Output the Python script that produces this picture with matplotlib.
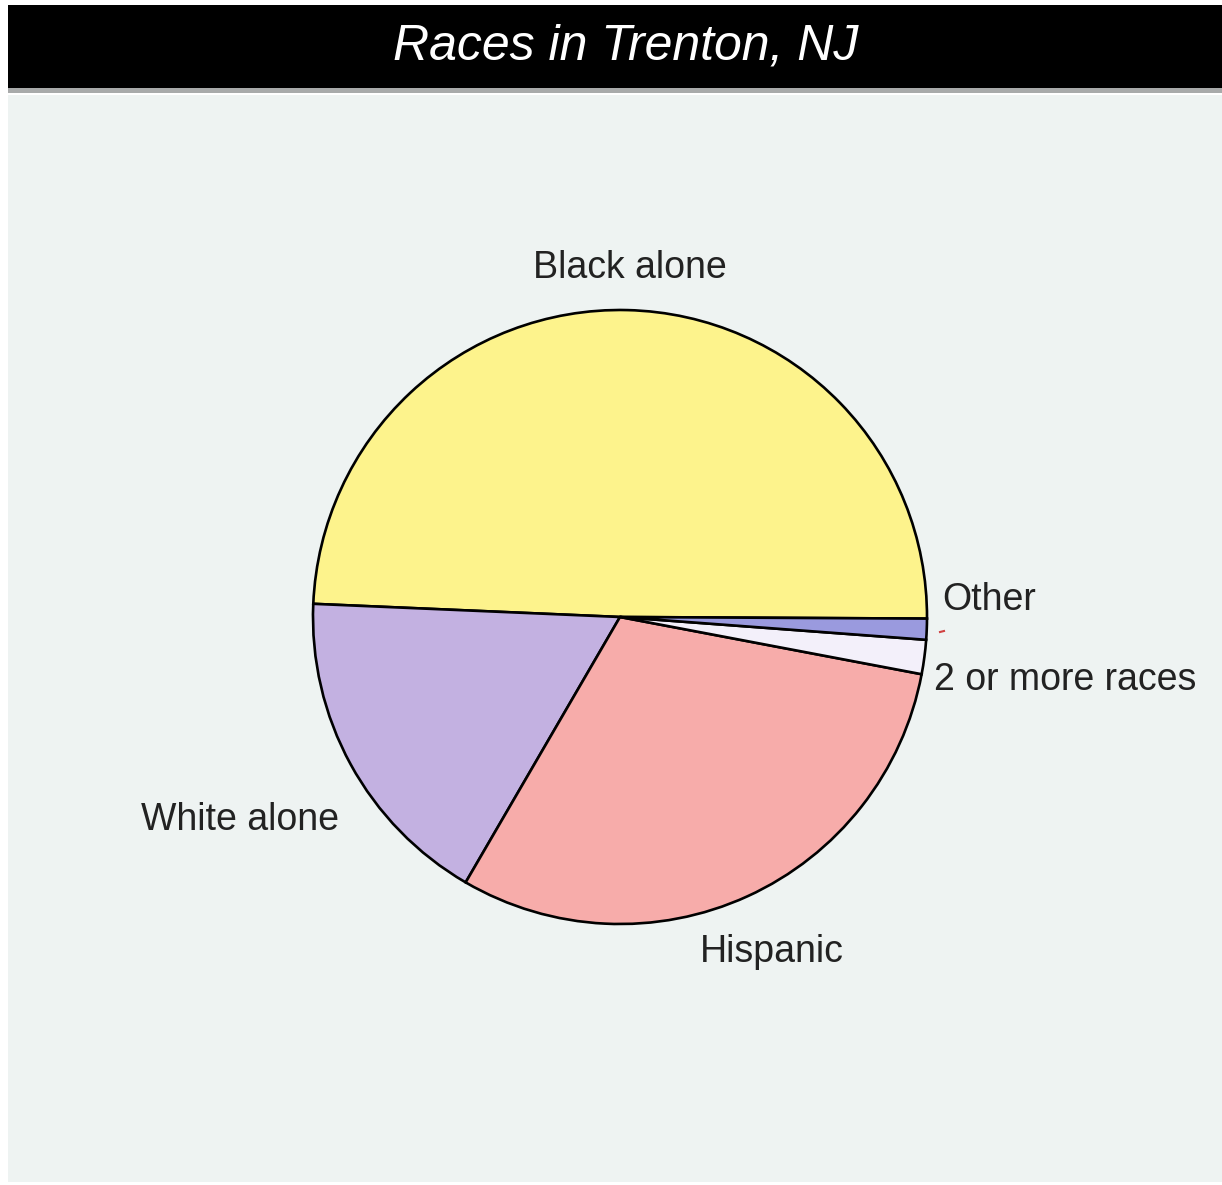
import matplotlib.pyplot as plt
from matplotlib.patches import Rectangle

ANCHO, ALTO = 1222, 1185

categorias = ["Black alone", "White alone", "Hispanic", "2 or more races", "Other"]
porcentajes = [49.4, 17.3, 30.4, 1.8, 1.1]
colores = ["#fdf38c", "#c3b1e1", "#f7acaa", "#f3f0fa", "#9a9ade"]

fig = plt.figure(figsize=(ANCHO / 100, ALTO / 100), dpi=100, facecolor="white")
ax = fig.add_axes([0, 0, 1, 1])

# fondo y barra del titulo
ax.add_patch(Rectangle((8, 3), ANCHO - 8, ALTO - 98, facecolor="#eef3f2", edgecolor="none", zorder=0))
ax.add_patch(Rectangle((8, ALTO - 93), ANCHO - 8, 5, facecolor="#a8aaaa", edgecolor="none", zorder=1))
ax.add_patch(Rectangle((8, ALTO - 88), ANCHO - 8, 83, facecolor="black", edgecolor="none", zorder=1))
ax.text(626, ALTO - 46, "Races in Trenton, NJ", color="white", fontsize=36,
        style="italic", family="Liberation Sans", ha="center", va="center", zorder=2)

centro = (620, ALTO - 617)
ax.pie(porcentajes, colors=colores, startangle=-0.3, counterclock=True,
       center=centro, radius=307, frame=True,
       wedgeprops=dict(edgecolor="black", linewidth=1.9))
ax.set_xlim(0, ANCHO)
ax.set_ylim(0, ALTO)
ax.set_aspect("equal")
ax.axis("off")

estilo = dict(fontsize=27, family="Liberation Sans", color="#222222", va="center")
ax.text(630, ALTO - 268, "Black alone", ha="center", **estilo)
ax.text(240, ALTO - 820, "White alone", ha="center", **estilo)
ax.text(772, ALTO - 952, "Hispanic", ha="center", **estilo)
ax.text(942, ALTO - 600, "Other", ha="left", **estilo)
ax.text(934, ALTO - 680, "2 or more races", ha="left", **estilo)
ax.plot([940, 944], [ALTO - 632, ALTO - 631], color="#d04040", linewidth=1.5)

fig.savefig("out.png", dpi=100, facecolor="white")
